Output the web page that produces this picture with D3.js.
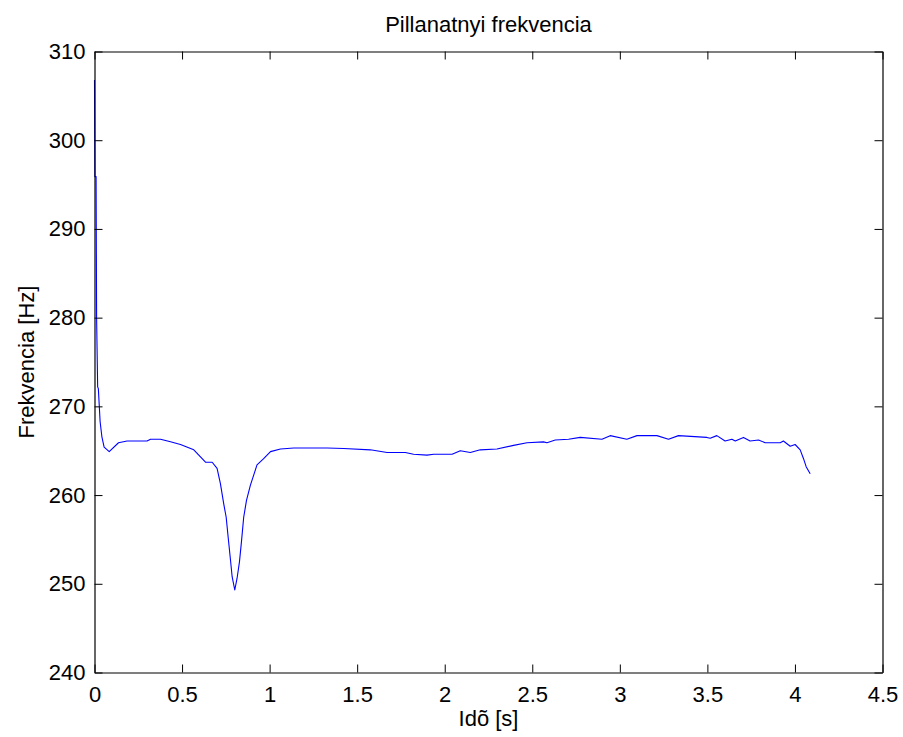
<!DOCTYPE html>
<html>
<head>
<meta charset="utf-8">
<script src="https://cdn.jsdelivr.net/npm/d3@7"></script>
<style>
  html, body { margin: 0; padding: 0; background: #fff; }
  svg { display: block; }
  text { font-family: "Liberation Sans", Arial, Helvetica, sans-serif; fill: #000; }
</style>
</head>
<body>
<svg id="chart" width="903" height="737"></svg>
<script>
// ---- data ----
const titleText = "Pillanatnyi frekvencia";
const xLabelText = "Idõ [s]";
const yLabelText = "Frekvencia [Hz]";

const xTicks = [0, 0.5, 1, 1.5, 2, 2.5, 3, 3.5, 4, 4.5];
const yTicks = [240, 250, 260, 270, 280, 290, 300, 310];

const time = [
  0.000, 0.002, 0.009, 0.012, 0.018, 0.022, 0.032, 0.042, 0.055, 0.084,
  0.137, 0.186, 0.300, 0.320, 0.377, 0.434, 0.491, 0.567, 0.634, 0.672,
  0.700, 0.719, 0.738, 0.752, 0.763, 0.776, 0.786, 0.801, 0.814, 0.828,
  0.839, 0.852, 0.868, 0.890, 0.928, 0.966, 1.005, 1.062, 1.138, 1.329,
  1.423, 1.575, 1.671, 1.775, 1.822, 1.899, 1.937, 2.042, 2.089, 2.146,
  2.203, 2.298, 2.393, 2.470, 2.564, 2.584, 2.631, 2.707, 2.774, 2.898,
  2.945, 3.040, 3.098, 3.212, 3.278, 3.335, 3.497, 3.516, 3.554, 3.601,
  3.640, 3.659, 3.706, 3.744, 3.792, 3.830, 3.916, 3.934, 3.973, 4.001,
  4.030, 4.049, 4.064, 4.087
];
const freq = [
  306.8, 295.9, 295.9, 280.0, 272.2, 272.0, 268.3, 266.6, 265.4, 264.9,
  265.9, 266.1, 266.1, 266.3, 266.3, 266.0, 265.7, 265.1, 263.7, 263.7,
  263.0, 261.3, 259.0, 257.5, 255.3, 252.8, 250.8, 249.3, 250.6, 252.5,
  254.7, 257.5, 259.4, 261.1, 263.4, 264.1, 264.9, 265.2, 265.3, 265.3,
  265.25, 265.1, 264.8, 264.8, 264.6, 264.5, 264.6, 264.6, 265.0, 264.8,
  265.1, 265.2, 265.6, 265.9, 266.0, 265.9, 266.2, 266.3, 266.5, 266.3,
  266.7, 266.3, 266.7, 266.7, 266.3, 266.7, 266.5, 266.4, 266.7, 266.1,
  266.3, 266.1, 266.5, 266.1, 266.2, 265.9, 265.9, 266.1, 265.5, 265.7,
  265.1, 264.1, 263.2, 262.4
];

// ---- layout ----
const plotLeft = 94.5, plotRight = 882.5, plotTop = 51.5, plotBottom = 672.5;
const fontSize = 22;

const svg = d3.select("#chart");

const x = d3.scaleLinear().domain([0, 4.5]).range([plotLeft, plotRight]);
const y = d3.scaleLinear().domain([240, 310]).range([plotBottom, plotTop]);

const fmt = d => String(d);

svg.append("rect").attr("x", plotLeft).attr("y", plotTop)
  .attr("width", plotRight - plotLeft).attr("height", plotBottom - plotTop)
  .attr("fill", "#fff");

// line
const line = d3.line().x((d, i) => x(time[i])).y(d => y(d));
svg.append("path")
  .datum(freq)
  .attr("d", line)
  .attr("fill", "none")
  .attr("stroke", "#0000ff")
  .attr("stroke-width", 1.1)
  .attr("stroke-linejoin", "round");

function styleAxis(g) {
  g.selectAll("path.domain").attr("stroke", "#000").attr("stroke-width", 1.2);
  g.selectAll(".tick line").attr("stroke", "#000").attr("stroke-width", 1);
  g.selectAll(".tick text").attr("font-size", fontSize)
    .style("font-family", '"Liberation Sans", Arial, Helvetica, sans-serif')
    .attr("fill", "#000");
}

svg.append("g").attr("transform", `translate(0,${plotBottom})`)
  .call(d3.axisBottom(x).tickValues(xTicks).tickFormat(fmt)
    .tickSizeInner(-8).tickSizeOuter(0).tickPadding(14))
  .call(styleAxis);

svg.append("g").attr("transform", `translate(0,${plotTop})`)
  .call(d3.axisTop(x).tickValues(xTicks).tickFormat("")
    .tickSizeInner(-8).tickSizeOuter(0))
  .call(styleAxis);

svg.append("g").attr("transform", `translate(${plotLeft},0)`)
  .call(d3.axisLeft(y).tickValues(yTicks).tickFormat(fmt)
    .tickSizeInner(-8).tickSizeOuter(0).tickPadding(9))
  .call(styleAxis);

svg.append("g").attr("transform", `translate(${plotRight},0)`)
  .call(d3.axisRight(y).tickValues(yTicks).tickFormat("")
    .tickSizeInner(-8).tickSizeOuter(0))
  .call(styleAxis);

svg.append("text")
  .attr("x", (plotLeft + plotRight) / 2).attr("y", 32)
  .attr("text-anchor", "middle").attr("font-size", fontSize)
  .text(titleText);

svg.append("text")
  .attr("x", (plotLeft + plotRight) / 2).attr("y", 726)
  .attr("text-anchor", "middle").attr("font-size", fontSize)
  .text(xLabelText);

svg.append("text")
  .attr("transform", `translate(34,${(plotTop + plotBottom) / 2}) rotate(-90)`)
  .attr("text-anchor", "middle").attr("font-size", fontSize)
  .text(yLabelText);
</script>
</body>
</html>
